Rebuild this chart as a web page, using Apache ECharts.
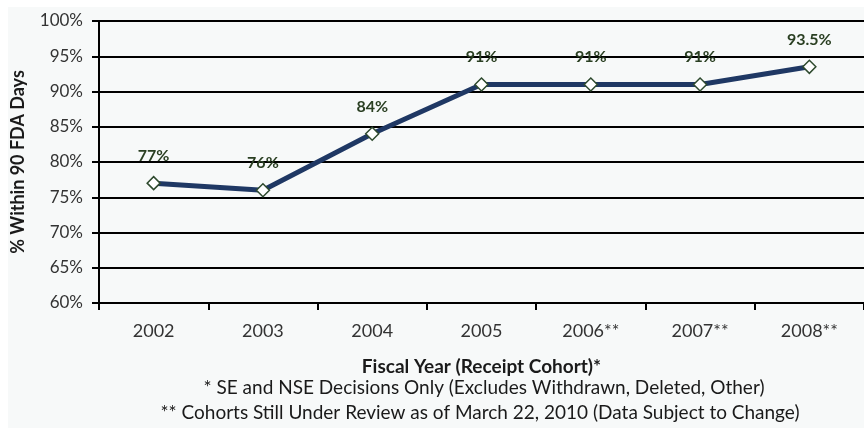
<!DOCTYPE html>
<html>
<head>
<meta charset="utf-8">
<script src="https://cdn.jsdelivr.net/npm/echarts@6/dist/echarts.min.js"></script>
<style>
  html, body { margin: 0; padding: 0; background: #ffffff; }
  #chart { width: 864px; height: 428px; }
</style>
</head>
<body>
<div id="chart"></div>
<script>
// Fiscal year receipt cohorts
const years = ['2002', '2003', '2004', '2005', '2006**', '2007**', '2008**'];
// Share of decisions reached within 90 FDA days (%)
const within90 = [77, 76, 84, 91, 91, 91, 93.5];
// Text shown above each point
const pointLabels = ['77%', '76%', '84%', '91%', '91%', '91%', '93.5%'];
// Y axis range and step (%)
const yMin = 60, yMax = 100, yStep = 5;

const footnote1 = '* SE and NSE Decisions Only (Excludes Withdrawn, Deleted, Other)';
const footnote2 = '** Cohorts Still Under Review as of March 22, 2010 (Data Subject to Change)';

const font = 'Lato, "Liberation Sans", Arial, sans-serif';

const chart = echarts.init(document.getElementById('chart'), null, { renderer: 'canvas' });

chart.setOption({
  animation: false,
  backgroundColor: '#ffffff',
  graphic: [
    {
      type: 'rect',
      z: -10,
      shape: { x: 8, y: 7, width: 860, height: 425 },
      style: { fill: '#f7f9f9' }
    },
    {
      type: 'text',
      x: 484,
      y: 388,
      style: { text: footnote1, font: '19px ' + font, fill: '#1a1a1a', textAlign: 'center', textVerticalAlign: 'middle' }
    },
    {
      type: 'text',
      x: 480,
      y: 413,
      style: { text: footnote2, font: '19px ' + font, fill: '#1a1a1a', textAlign: 'center', textVerticalAlign: 'middle' }
    }
  ],
  grid: { left: 99, right: -4, top: 21, bottom: 125, containLabel: false },
  xAxis: {
    type: 'category',
    data: years,
    boundaryGap: true,
    name: 'Fiscal Year (Receipt Cohort)*',
    nameLocation: 'middle',
    nameGap: 54,
    nameTextStyle: { fontFamily: font, fontSize: 19, fontWeight: 'bold', color: '#1a1a1a' },
    axisLine: { show: true, lineStyle: { color: '#000000', width: 2 } },
    axisTick: { show: true, alignWithLabel: false, length: 7, lineStyle: { color: '#000000', width: 2 } },
    axisLabel: { fontFamily: font, fontSize: 18, color: '#333333', margin: 19 }
  },
  yAxis: {
    type: 'value',
    min: yMin,
    max: yMax,
    interval: yStep,
    name: '% Within 90 FDA Days',
    nameLocation: 'middle',
    nameGap: 72,
    nameTextStyle: { fontFamily: font, fontSize: 18, fontWeight: 'bold', color: '#1a1a1a' },
    axisLine: { show: true, lineStyle: { color: '#000000', width: 2 } },
    axisTick: { show: true, length: 7, lineStyle: { color: '#000000', width: 2 } },
    axisLabel: { fontFamily: font, fontSize: 17, color: '#333333', margin: 16, formatter: '{value}%' },
    splitLine: { show: true, lineStyle: { color: '#000000', width: 2 } }
  },
  series: [
    {
      type: 'line',
      data: within90,
      symbol: 'diamond',
      symbolSize: 13,
      showAllSymbol: true,
      lineStyle: { color: '#1f3864', width: 5 },
      itemStyle: { color: '#ffffff', borderColor: '#2e4a2e', borderWidth: 1.5 },
      label: {
        show: true,
        position: 'top',
        distance: 12,
        formatter: p => pointLabels[p.dataIndex],
        fontFamily: font,
        fontSize: 16,
        fontWeight: 'bold',
        color: '#2a3f22'
      },
      z: 5
    }
  ]
});
</script>
</body>
</html>
